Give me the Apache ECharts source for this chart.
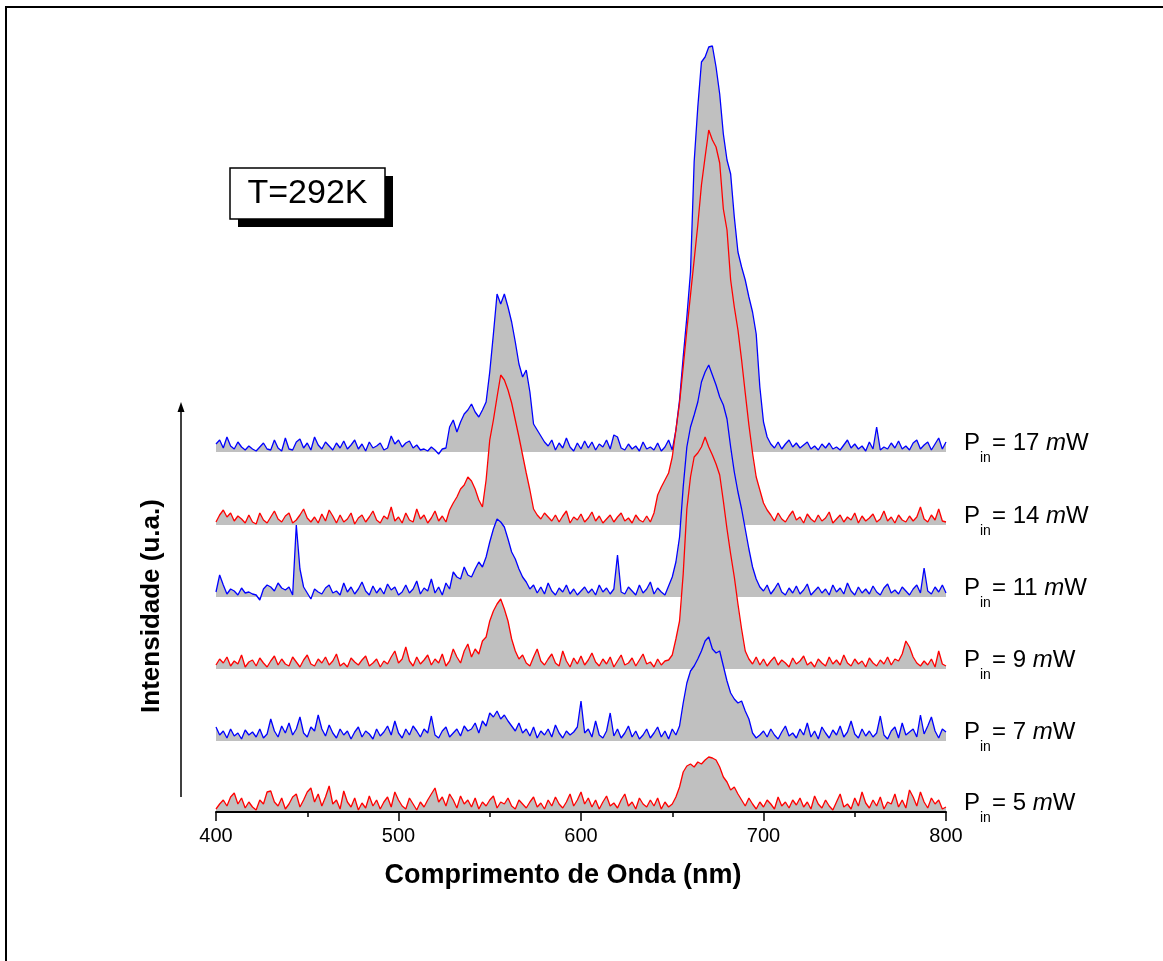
<!DOCTYPE html>
<html>
<head>
<meta charset="utf-8">
<script src="https://cdn.jsdelivr.net/npm/echarts@6/dist/echarts.min.js"></script>
<style>
  html, body { margin: 0; padding: 0; background: #fff; }
  #main { width: 1163px; height: 961px; }
</style>
</head>
<body>
<div id="main"></div>
<script>
  // eixo x: 400..800 nm, um ponto a cada 2 nm
  var xStart = 400, xStep = 2;

  // intensidades (u.a., acima da linha de base de cada curva)
  var p5 = [
    3, 8, 12, 6, 15, 19, 8, 14, 4, 10,
    5, 2, 12, 8, 20, 21, 10, 6, 14, 3,
    8, 15, 18, 5, 12, 20, 24, 10, 18, 6,
    15, 26, 8, 12, 3, 21, 10, 5, 14, 2,
    9, 4, 16, 6, 12, 3, 10, 15, 5, 20,
    12, 6, 3, 14, 8, 2, 10, 5, 12, 18,
    24, 10, 15, 6, 18, 12, 4, 16, 8, 12,
    5, 14, 3, 10, 6, 12, 16, 4, 10, 8,
    14, 6, 3, 12, 8, 4, 10, 15, 5, 9,
    3, 12, 6, 15, 8, 4, 10, 18, 6, 12,
    20, 8, 14, 5, 12, 3, 10, 16, 6, 9,
    4, 12, 18, 6, 10, 3, 14, 8, 5, 12,
    6, 14, 3, 10, 5, 8, 15, 25, 40, 46,
    48, 45, 50, 48, 52, 55, 54, 52, 45, 35,
    30, 22, 25, 18, 12, 6, 14, 8, 3, 10,
    5, 12, 8, 3, 15, 6, 10, 4, 12, 7,
    14, 5, 10, 3, 16, 8, 4, 12, 6, 2,
    10, 18, 5, 8, 3, 14, 6, 20, 9, 4,
    12, 6, 15, 3, 10, 8, 18, 5, 12, 4,
    22, 15, 6, 20, 10, 4, 14, 8, 12, 3,
    5
  ];
  var p7 = [
    14, 6, 10, 3, 12, 5, 8, 2, 11, 6,
    9, 4, 12, 3, 7, 22, 10, 4, 15, 8,
    18, 6, 12, 24, 8, 4, 14, 10, 26, 12,
    5, 16, 8, 3, 12, 6, 10, 2, 9, 14,
    4, 10, 7, 2, 12, 5, 9, 15, 6, 20,
    8, 3, 12, 6, 15, 10, 4, 12, 8, 25,
    6, 3, 10, 14, 4, 8, 12, 5, 15, 10,
    12, 18, 8, 20, 15, 28, 24, 30, 22, 26,
    20, 15, 10, 18, 8, 12, 5, 14, 3, 10,
    6, 12, 4, 16, 8, 3, 10, 6, 9, 14,
    40, 8, 12, 4, 20, 6, 3, 10, 28, 5,
    12, 3, 8, 15, 4, 10, 2, 6, 12, 3,
    8, 14, 4, 10, 2, 12, 6, 15, 38, 58,
    70, 75, 82, 90, 100, 104, 92, 88, 90, 75,
    60, 48, 42, 38, 40, 30, 22, 8, 3, 6,
    10, 4, 12, 6, 2, 9, 15, 5, 8, 3,
    12, 6, 18, 4, 10, 2, 14, 8, 3, 11,
    6, 15, 4, 9, 20, 7, 3, 12, 5, 10,
    4, 8, 25, 6, 2, 10, 14, 3, 18, 6,
    9, 12, 4, 26, 7, 15, 24, 10, 3, 12,
    9
  ];
  var p9 = [
    4, 10, 6, 12, 3, 8, 5, 14, 2, 7,
    9, 3, 11, 6, 2, 8, 13, 4, 10, 5,
    3, 12, 7, 2, 9, 14, 5, 3, 10, 6,
    12, 4, 8, 15, 3, 6, 2, 11, 7, 4,
    9, 13, 3, 6, 10, 2, 8, 5, 12, 18,
    6, 10, 22, 8, 3, 12, 5, 9, 14, 4,
    10, 6, 15, 3, 8, 20, 12, 6, 18, 25,
    12, 20, 15, 28, 32, 48, 58, 65, 70, 60,
    48, 30, 18, 10, 14, 6, 3, 12, 20, 8,
    4, 10, 15, 6, 3, 18, 8, 2, 11, 5,
    13, 4, 9, 16, 7, 3, 10, 5, 12, 2,
    8, 14, 4, 6, 11, 3, 9, 15, 5, 7,
    2, 10, 4, 8, 9, 14, 30, 48, 95, 160,
    192, 212, 216, 222, 232, 222, 214, 205, 194, 168,
    140, 115, 92, 65, 40, 18, 10, 5, 12, 4,
    10, 3, 8, 12, 4, 9, 6, 2, 11, 5,
    8, 13, 4, 7, 2, 10, 6, 3, 12, 5,
    9, 4, 14, 6, 3, 10, 5, 8, 2, 11,
    6, 3, 9, 5, 12, 4, 10, 8, 15, 28,
    22, 12, 6, 3, 8, 4, 10, 2, 18, 5,
    3
  ];
  var p11 = [
    5, 22, 12, 3, 8, 6, 2, 9, 4, 5,
    3, 2, -3, 8, 12, 10, 6, 14, 9, 7,
    10, 2, 72, 28, 10, 4, -2, 8, 5, 3,
    9, 12, 4, 6, 2, 14, 5, 10, 3, 8,
    15, 6, 2, 11, 4, 9, 3, 13, 7, 10,
    2, 5, 12, 4, 8, 16, 3, 9, 6, 18,
    4, 10, 2, 14, 8, 25, 20, 18, 30, 22,
    20, 28, 35, 30, 40, 55, 68, 78, 75, 70,
    58, 45, 38, 28, 20, 15, 8, 12, 4, 10,
    3, 14, 6, 2, 9, 5, 12, 3, 8, 2,
    6, 10, 4, 8, 2, 12, 5, 9, 3, 8,
    42, 5, 3, 10, 6, 2, 12, 4, 8, 15,
    3, 9, 5, 2, 11, 20, 35, 60, 110, 150,
    170, 182, 195, 215, 225, 232, 222, 212, 200, 192,
    178, 150, 125, 105, 88, 68, 48, 30, 18, 10,
    6, 12, 3, 8, 14, 5, 2, 9, 4, 11,
    3, 7, 13, 2, 6, 10, 4, 8, 2, 12,
    5, 9, 3, 14, 6, 2, 10, 4, 8, 3,
    11, 5, 2, 9, 13, 4, 7, 3, 10, 6,
    2, 8, 12, 4, 29, 6, 3, 10, 5, 12,
    4
  ];
  var p14 = [
    3, 10, 15, 8, 12, 4, 9, 6, 2, 10,
    3, 1, 12, 5, 2, 8, 14, 6, 3, 9,
    12, 2, 5, 10, 16, 7, 3, 8, 2, 11,
    4, 15, 9, 2, 10, 3, 6, 12, 1, 7,
    10, 3, 8, 14, 5, 2, 9, 6, 18, 4,
    8, 2, 12, 5, 3, 16, 6, 10, 2, 7,
    14, 4, 9, 3, 15, 22, 28, 36, 40, 48,
    44, 36, 25, 18, 45, 85, 105, 128, 150, 145,
    135, 122, 105, 88, 70, 52, 35, 16, 10, 6,
    12, 8, 4, 10, 3, 9, 14, 2, 8, 5,
    11, 3, 7, 13, 4, 9, 2, 6, 10, 3,
    8, 12, 4, 7, 2, 10, 5, 3, 9, 3,
    12, 30, 38, 45, 52, 68, 95, 122, 158, 195,
    230, 265, 300, 340, 368, 395, 385, 378, 362, 316,
    295, 245, 218, 195, 165, 132, 100, 72, 48, 35,
    22, 15, 10, 4, 12, 6, 3, 9, 14, 5,
    8, 2, 11, 6, 3, 10, 4, 7, 13, 2,
    6, 10, 3, 8, 5, 12, 2, 9, 4, 7,
    11, 3, 6, 14, 4, 8, 2, 10, 5, 3,
    9, 4, 8, 18, 6, 3, 10, 5, 16, 4,
    3
  ];
  var p17 = [
    8, 12, 4, 15, 6, 3, 10, 5, 2, 6,
    3, 1, 5, 9, 3, 2, 12, 4, 1, 14,
    3, 2, 10, 13, 4, 9, 2, 15, 7, 3,
    10, 6, 2, 9, 4, 11, 3, 7, 12, 3,
    8, 1, 10, 4, 6, 9, 2, 4, 16, 8,
    12, 5, 9, 11, 4, 7, 2, 3, 1, 5,
    2, -2, 3, 4, 25, 32, 20, 30, 38, 42,
    48, 40, 35, 42, 50, 80, 118, 158, 148, 158,
    145, 130, 110, 88, 75, 82, 60, 28, 22, 16,
    10, 6, 12, 2, 9, 4, 14, 5, 1, 9,
    3, 11, 4, 10, 2, 8, 5, 12, 3, 17,
    15, 4, 2, 8, 3, 6, 1, 10, 3, 5,
    2, 9, 1, 5, 12, 2, 22, 52, 95, 135,
    180, 290, 345, 390, 395, 405, 406, 385, 358, 318,
    292, 278, 235, 200, 185, 172, 155, 140, 118, 65,
    30, 15, 8, 4, 10, 3, 8, 12, 5, 9,
    4, 7, 10, 3, 6, 2, 8, 4, 9, 3,
    5, 2, 7, 12, 4, 8, 3, 6, 1, 10,
    3, 25, 2, 5, 3, 9, 4, 11, 3, 6,
    2, 9, 12, 3, 7, 10, 2, 8, 14, 3,
    10
  ];

  var spectra = [p5, p7, p9, p11, p14, p17];
  var powers = [5, 7, 9, 11, 14, 17];
  var offsets = [0, 71, 143, 215, 287, 360];   // deslocamento vertical de cada curva
  var lineColors = ['#ff0000', '#0000ff', '#ff0000', '#0000ff', '#ff0000', '#0000ff'];
  var xTicks = [400, 500, 600, 700, 800];

  var font = "'Liberation Sans', Arial, sans-serif";
  var myChart = echarts.init(document.getElementById('main'));

  // curvas de cima primeiro, para que as de baixo fiquem por cima
  var series = [];
  for (var k = spectra.length - 1; k >= 0; k--) {
    var pts = [];
    for (var i = 0; i < spectra[k].length; i++) {
      pts.push([xStart + i * xStep, offsets[k] + spectra[k][i]]);
    }
    series.push({
      name: 'P' + powers[k],
      type: 'line',
      data: pts,
      showSymbol: false,
      symbol: 'none',
      lineStyle: { color: lineColors[k], width: 1.3 },
      areaStyle: { color: '#c0c0c0', opacity: 1, origin: offsets[k] },
      silent: true
    });
  }

  var option = {
    animation: false,
    backgroundColor: '#fff',
    grid: { left: 216, right: 217, top: 12, bottom: 149 },
    xAxis: {
      type: 'value',
      min: xTicks[0],
      max: xTicks[xTicks.length - 1],
      interval: 100,
      z: 10,
      name: 'Comprimento de Onda (nm)',
      nameLocation: 'middle',
      nameGap: 50,
      nameTextStyle: { fontFamily: font, fontSize: 27, fontWeight: 'bold', color: '#000',
        padding: [0, 36, 0, 0] },
      axisLine: { lineStyle: { color: '#000', width: 2 } },
      axisTick: { length: 9, lineStyle: { color: '#000', width: 1.5 } },
      minorTick: { show: true, splitNumber: 2, length: 5, lineStyle: { color: '#000', width: 1.5 } },
      axisLabel: { fontFamily: font, fontSize: 20, color: '#000', margin: 14 },
      splitLine: { show: false }
    },
    yAxis: {
      type: 'value',
      min: 0,
      max: 800,
      show: false
    },
    series: series
  };
  myChart.setOption(option);

  // textos e enfeites
  var graphic = [
    // moldura externa
    { type: 'rect', shape: { x: 6, y: 7, width: 1300, height: 1100 },
      style: { fill: 'none', stroke: '#000', lineWidth: 2 }, silent: true },
    // seta do eixo de intensidade
    { type: 'line', shape: { x1: 181, y1: 797, x2: 181, y2: 410 },
      style: { stroke: '#000', lineWidth: 1.5 } },
    { type: 'polygon', shape: { points: [[181, 402], [177.5, 412], [184.5, 412]] },
      style: { fill: '#000' } },
    { type: 'text', x: 152, y: 606, rotation: Math.PI / 2,
      style: { text: 'Intensidade (u.a.)', font: 'bold 26px ' + font, fill: '#000',
        align: 'center', verticalAlign: 'middle' } },
    // caixa da temperatura
    { type: 'rect', shape: { x: 238, y: 176, width: 155, height: 51 }, style: { fill: '#000' } },
    { type: 'rect', shape: { x: 230, y: 168, width: 155, height: 51 },
      style: { fill: '#fff', stroke: '#000', lineWidth: 1.5 } },
    { type: 'text', x: 307.5, y: 194,
      style: { text: 'T=292K', font: '34px ' + font, fill: '#000', align: 'center', verticalAlign: 'middle' } }
  ];

  for (var j = 0; j < powers.length; j++) {
    var base = myChart.convertToPixel({ xAxisIndex: 0, yAxisIndex: 0 }, [xTicks[xTicks.length - 1], offsets[j]]);
    var x0 = base[0] + 18;
    var yb = base[1];
    graphic.push({ type: 'text', x: x0, y: yb - 9,
      style: { text: 'P', font: '24px ' + font, fill: '#000', verticalAlign: 'middle' } });
    graphic.push({ type: 'text', x: x0 + 16, y: yb + 6,
      style: { text: 'in', font: '14px ' + font, fill: '#000', verticalAlign: 'middle' } });
    graphic.push({ type: 'text', x: x0 + 28, y: yb - 9,
      style: {
        text: '{a|= ' + powers[j] + ' }{i|m}{a|W}',
        verticalAlign: 'middle',
        rich: {
          a: { fontFamily: font, fontSize: 24, color: '#000' },
          i: { fontFamily: font, fontSize: 24, fontStyle: 'italic', color: '#000' }
        }
      } });
  }

  myChart.setOption({ graphic: graphic });
</script>
</body>
</html>
